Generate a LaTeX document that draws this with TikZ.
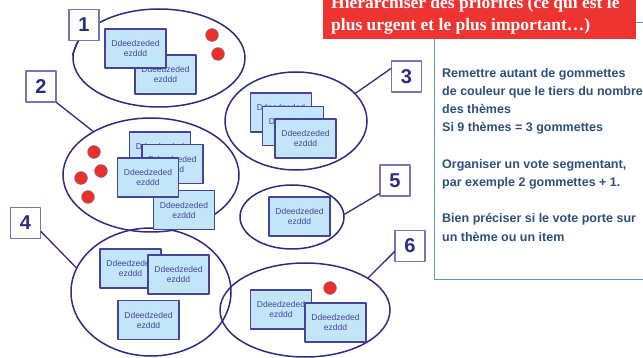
\documentclass[tikz,border=0pt]{standalone}
\usepackage{fontspec}
\setmainfont{Liberation Sans}
\newfontfamily\titleserif{Liberation Serif}
\usetikzlibrary{shapes.geometric}
\definecolor{navy}{HTML}{2E2B82}
\definecolor{cardfill}{HTML}{C2E5F8}
\definecolor{cardline}{HTML}{45449A}
\definecolor{boxline}{HTML}{7575BC}
\definecolor{dotred}{HTML}{EC2F2A}
\definecolor{titlered}{HTML}{EE3431}
\definecolor{paneltext}{HTML}{2C4F7C}
\definecolor{panelline}{HTML}{5896C6}

\begin{document}
\begin{tikzpicture}[x=1pt, y=-1pt, line cap=round, line join=round]
	\tikzset{card/.style={draw=cardline, fill=cardfill, line width=1.1pt, minimum width=61pt, minimum height=39pt, inner sep=0pt, align=center, text=cardline, font=\fontsize{8.5}{10}\selectfont},
		numbox/.style={draw=boxline, fill=white, line width=1.1pt, minimum width=30pt, minimum height=31pt, inner sep=0pt, text=navy, font=\fontsize{20}{20}\selectfont\bfseries},
		group/.style={ellipse, draw=navy, line width=1.5pt, inner sep=0pt},
		dot/.style={circle, fill=dotred, draw=panelline, line width=0.4pt, minimum size=13pt, inner sep=0pt},
		link/.style={draw=navy, line width=1.3pt}}
	\useasboundingbox (0,0) rectangle (643,358);
	\clip (0,0) rectangle (643,358);
	% panel on the right
	\node (panel) [draw=panelline, line width=1pt, minimum width=240pt, minimum height=257pt, anchor=north west] at (434,22) {};
	\node (titlebox) [fill=titlered, minimum width=313pt, minimum height=50pt, inner sep=0pt, anchor=south west] at (323,39.5) {};
	\node (title) [anchor=north west, inner sep=0pt, align=left, text=white, font=\titleserif\bfseries\fontsize{17.5}{22}\selectfont] at (331,-3.4)
		{Hiérarchiser des priorités (ce qui est le\\plus urgent et le plus important…)};
	\node (notes) [anchor=north west, inner sep=0pt, align=left, text=paneltext, font=\bfseries\fontsize{12.5}{18.2}\selectfont] at (442,68)
		{Remettre autant de gommettes\\de couleur que le tiers du nombre\\des thèmes\\Si 9 thèmes = 3 gommettes\\[18.2pt]Organiser un vote segmentant,\\par exemple 2 gommettes + 1.\\[18.2pt]Bien préciser si le vote porte sur\\un thème ou un item};
	% groups
	\node (e1) [group, minimum width=172pt, minimum height=98pt] at (159,58) {};
	\node (e2) [group, minimum width=176pt, minimum height=114pt] at (151,175) {};
	\node (e3) [group, minimum width=142pt, minimum height=98pt] at (296,121) {};
	\node (e5) [group, minimum width=104pt, minimum height=64pt] at (292,217) {};
	\node (e4) [group, minimum width=160pt, minimum height=128pt] at (151,292) {};
	\node (e6) [group, minimum width=170pt, minimum height=94pt] at (305,310) {};
	% cards
	\node (c1b) [card] at (165.5,74.5) {Ddeedzeded\\ezddd};
	\node (c1a) [card] at (135.5,48.5) {Ddeedzeded\\ezddd};
	\node (c2a) [card] at (160,151.5) {Ddeedzeded\\ezddd};
	\node (c2b) [card] at (172.5,164) {Ddeedzeded\\ezddd};
	\node (c2d) [card] at (184,210) {Ddeedzeded\\ezddd};
	\node (c2c) [card] at (148,177.5) {Ddeedzeded\\ezddd};
	\node (c3a) [card] at (281,112.5) {Ddeedzeded\\ezddd};
	\node (c3b) [card] at (293,126) {Ddeedzeded\\ezddd};
	\node (c3c) [card] at (305.5,138.5) {Ddeedzeded\\ezddd};
	\node (c5) [card] at (299.5,216.5) {Ddeedzeded\\ezddd};
	\node (c4a) [card] at (130.5,268.5) {Ddeedzeded\\ezddd};
	\node (c4b) [card] at (178.5,274.5) {Ddeedzeded\\ezddd};
	\node (c4c) [card] at (148.5,320) {Ddeedzeded\\ezddd};
	\node (c6a) [card] at (281,309.5) {Ddeedzeded\\ezddd};
	\node (c6b) [card] at (335.5,322.5) {Ddeedzeded\\ezddd};
	% stickers
	\node (d1a) [dot] at (212,35) {};
	\node (d1b) [dot] at (218,54) {};
	\node (d2a) [dot] at (94,152) {};
	\node (d2b) [dot] at (101,171) {};
	\node (d2c) [dot] at (81,178) {};
	\node (d2d) [dot] at (88,197) {};
	\node (d6) [dot] at (330,288) {};
	% numbers
	\node (box1) [numbox] at (84,25) {1};
	\node (box2) [numbox] at (41,86.5) {2};
	\node (box3) [numbox] at (406.5,76.5) {3};
	\node (box5) [numbox] at (395,180.5) {5};
	\node (box6) [numbox] at (410,246) {6};
	\node (box4) [numbox] at (25.5,223) {4};
	\draw[link] (box1.250) -- (e1.178);
	\draw[link] (box2.south east) -- (e2.143);
	\draw[link] (box3.153) -- (e3.25);
	\draw[link] (box5.220) -- (e5.3);
	\draw[link] (box6.200) -- (e6.27);
	\draw[link] (box4.331) -- (e4.162);
\end{tikzpicture}
\end{document}
